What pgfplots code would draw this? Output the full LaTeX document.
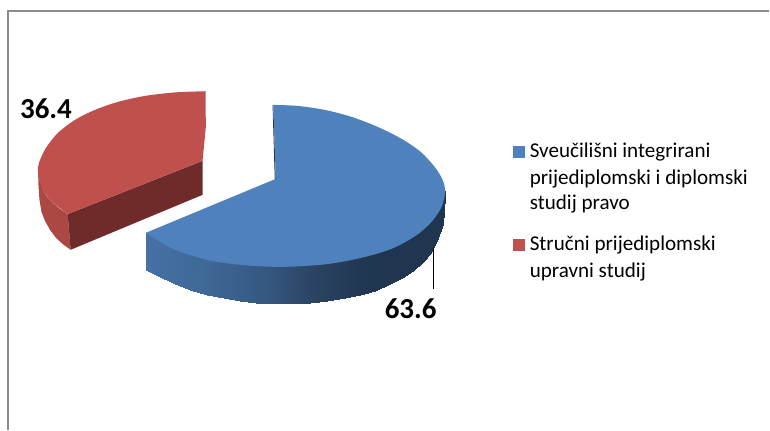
\documentclass[border=0pt]{standalone}
\usepackage{fontspec}
\setmainfont{Carlito}
\usepackage{pgfplots}
\pgfplotsset{compat=1.18}
\definecolor{piblue}{RGB}{79,129,189}
\definecolor{pired}{RGB}{192,80,77}
\definecolor{reddark}{RGB}{110,43,41}
\definecolor{redside}{RGB}{172,72,68}
\definecolor{bluedark}{RGB}{30,50,76}
\definecolor{framegray}{RGB}{140,140,140}
\begin{document}
\begin{tikzpicture}[x=1pt,y=1pt]
\begin{axis}[
  width=770pt,height=430pt,scale only axis,
  xmin=0,xmax=770,ymin=0,ymax=430,y dir=reverse,
  hide axis,clip=false,
  colormap={wall}{rgb255(146)=(70,113,165); rgb255(207)=(63,104,150); rgb255(273)=(52,85,126); rgb255(310)=(43,69,100); rgb255(370)=(31,53,80); rgb255(446)=(32,54,80)},
  point meta min=146,point meta max=446,
]
% picture extent
\addplot[draw=none,forget plot] coordinates {(0,0)(770,430)};
% frame
\addplot[framegray,line width=1.3pt,forget plot] coordinates {(8,430)(8,11)(770,11)};
% blue back sliver
\addplot[fill=bluedark,draw=none,forget plot] coordinates {(272.8,105)(273.5,105)(276,179)(275,179)} --cycle;
% blue wall
\addplot[surf,mesh/rows=2,shader=interp,point meta=x,forget plot] table {
x y
146 233
152 234
160 240
173 247
190 252
207 257
224 260
240 262
256 263
273 264
290 263
310 262
327 261
345 258
360 255
375 251
390 247
402 242
413 235
423 228
430 222
437 214
443 198
445.7 191
146.5 270
152 273
160 277.5
173 283.5
190 290
207 295
224 298.5
240 301
256 303
273 304
290 304
310 303
327 301
345 298
360 295
375 291
390 284.5
402 278.5
413 271
423 262
430 254
437 241
443 224
445.7 197
};
% blue top
\addplot[fill=piblue,draw=none,smooth,forget plot] coordinates {
(273.5,105)(298,106)(325,110)(352,117)(378,127)(402,139)(421,152)(435,167)(443,180)(445.5,192)(442,207)(432,222)(416,236)(392,249)(362,258)(330,264)(300,266.5)(273,267)(240,265)(207,260)(173,249)(146,233)} -- (axis cs:276,179) --cycle;
% red walls
\addplot[fill=redside,draw=none,forget plot] coordinates {(38,168)(39.5,180)(43,190)(47,197)(53,203)(60,209)(67.7,214.3)(70.7,250)(63,244.5)(56,238)(50,230)(45,221)(41.5,212)(39.5,200)(38.5,185)} --cycle;
\addplot[fill=reddark,draw=none,forget plot] coordinates {(67.7,214.3)(202.7,161)(202.7,195)(70.7,250)} --cycle;
% red top
\addplot[fill=pired,draw=none,smooth,forget plot] coordinates {
(205.7,91.3)(175,92.5)(145,96)(118,102)(95,110)(75,120)(58,133)(46,148)(39,163)(38,172)(41,186)(50,200)(67.7,214.3)} -- (axis cs:202.7,161) -- (axis cs:206,127) --cycle;
% leader
\addplot[black,line width=1.3pt,forget plot] coordinates {(434,248)(434,289)};
% legend keys
\addplot[fill=piblue,draw=none,forget plot] coordinates {(513,146)(525,146)(525,158)(513,158)} --cycle;
\addplot[fill=pired,draw=none,forget plot] coordinates {(513,239)(525,239)(525,251)(513,251)} --cycle;
% labels
\node[anchor=center,inner sep=0pt] at (axis cs:46,109) {\fontsize{29}{30}\selectfont\bfseries 36.4};
\node[anchor=center,inner sep=0pt] at (axis cs:411,309) {\fontsize{29}{30}\selectfont\bfseries 63.6};
\node[anchor=base west,inner sep=0pt] at (axis cs:530,158) {\fontsize{21.1}{24}\selectfont Sveučilišni integrirani};
\node[anchor=base west,inner sep=0pt] at (axis cs:530,184.3) {\fontsize{21.1}{24}\selectfont prijediplomski i diplomski};
\node[anchor=base west,inner sep=0pt] at (axis cs:530,210) {\fontsize{21.1}{24}\selectfont studij pravo};
\node[anchor=base west,inner sep=0pt] at (axis cs:530,251) {\fontsize{21.1}{24}\selectfont Stručni prijediplomski};
\node[anchor=base west,inner sep=0pt] at (axis cs:530,278) {\fontsize{21.1}{24}\selectfont upravni studij};
\end{axis}
\end{tikzpicture}
\end{document}
